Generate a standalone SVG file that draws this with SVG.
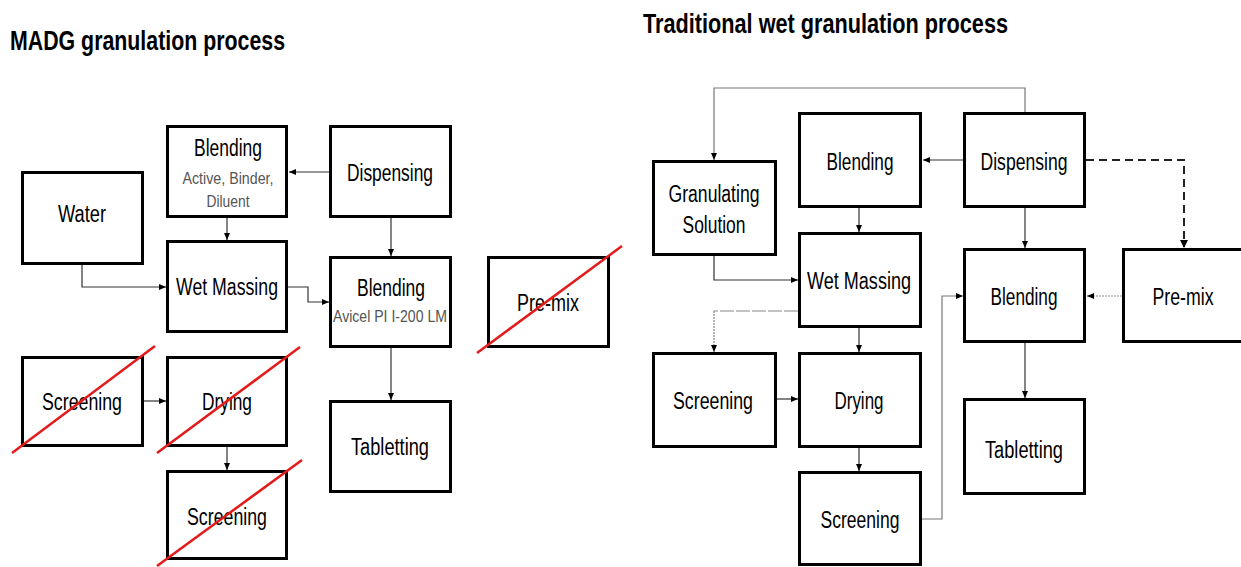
<svg xmlns="http://www.w3.org/2000/svg" width="1241" height="567" viewBox="0 0 1241 567">
<style>
.box{fill:#fff;stroke:#000;stroke-width:3}
.t{font-family:"Liberation Sans",Arial,sans-serif;font-size:23px;fill:#000;text-anchor:middle}
.s{font-family:"Liberation Sans",Arial,sans-serif;font-size:17px;fill:#555;text-anchor:middle}
.title{font-family:"Liberation Sans",Arial,sans-serif;font-size:28px;font-weight:bold;fill:#000}
.c{fill:none;stroke:#333;stroke-width:1.2}
.g{fill:none;stroke:#777;stroke-width:1.2}
.dash{fill:none;stroke:#222;stroke-width:2;stroke-dasharray:8,5}
.dot{fill:none;stroke:#888;stroke-width:1.2;stroke-dasharray:2,1}
.ld{fill:none;stroke:#888;stroke-width:1.2;stroke-dasharray:14,2}
.x{stroke:#e31b1b;stroke-width:2.5;fill:none}
</style>
<defs>
<marker id="ah" markerUnits="userSpaceOnUse" markerWidth="8" markerHeight="8" refX="7" refY="4" orient="auto">
<path d="M0,1 L7,4 L0,7 Z" fill="#000"/>
</marker>
</defs>
<rect width="1241" height="567" fill="#fff"/>
<text class="title" x="10" y="50" textLength="275" lengthAdjust="spacingAndGlyphs">MADG granulation process</text>
<text class="title" x="643" y="33" textLength="365" lengthAdjust="spacingAndGlyphs">Traditional wet granulation process</text>

<g id="connectors">
<path class="c" d="M329,172 H289" marker-end="url(#ah)"/>
<path class="c" d="M227,218 V240" marker-end="url(#ah)"/>
<path class="c" d="M82,265 V287 H166" marker-end="url(#ah)"/>
<path class="c" d="M288,287 H308 V302 H329" marker-end="url(#ah)"/>
<path class="c" d="M391,218 V256" marker-end="url(#ah)"/>
<path class="c" d="M144,401 H166" marker-end="url(#ah)"/>
<path class="c" d="M227,447 V470" marker-end="url(#ah)"/>
<path class="c" d="M391,348 V400" marker-end="url(#ah)"/>

<path class="g" d="M1025,112 V88 H714 V160" marker-end="url(#ah)"/>
<path class="c" d="M963,160 H923" marker-end="url(#ah)"/>
<path class="c" d="M859,208 V232" marker-end="url(#ah)"/>
<path class="c" d="M714,256 V280 H798" marker-end="url(#ah)"/>
<path class="ld" d="M798,311 H714"/>
<path class="dot" d="M714,311 V352" marker-end="url(#ah)"/>
<path class="c" d="M859,328 V352" marker-end="url(#ah)"/>
<path class="c" d="M777,399 H798" marker-end="url(#ah)"/>
<path class="c" d="M859,448 V471" marker-end="url(#ah)"/>
<path class="g" d="M922,519 H942 V296 H963" marker-end="url(#ah)"/>
<path class="c" d="M1025,208 V248" marker-end="url(#ah)"/>
<path class="c" d="M1025,343 V398" marker-end="url(#ah)"/>
<path class="dash" d="M1086,160 H1184 V247"/>
<path d="M1180,240 L1184,248 L1188,240 Z" fill="#000"/>
<path class="dot" d="M1122,296 H1087" marker-end="url(#ah)"/>
</g>

<g id="madg-blending1"><rect class="box" x="167.5" y="126.5" width="119" height="90"/>
<text class="t" x="228" y="156" textLength="68" lengthAdjust="spacingAndGlyphs">Blending</text>
<text class="s" x="228" y="184" textLength="91" lengthAdjust="spacingAndGlyphs">Active, Binder,</text>
<text class="s" x="228" y="207" textLength="43" lengthAdjust="spacingAndGlyphs">Diluent</text></g>
<g id="madg-water"><rect class="box" x="22.5" y="172.5" width="120" height="91"/>
<text class="t" x="82" y="222" textLength="48" lengthAdjust="spacingAndGlyphs">Water</text></g>
<g id="madg-wetmassing"><rect class="box" x="167.5" y="241.5" width="119" height="90"/>
<text class="t" x="227" y="295" textLength="102" lengthAdjust="spacingAndGlyphs">Wet Massing</text></g>
<g id="madg-dispensing"><rect class="box" x="330.5" y="126.5" width="120" height="90"/>
<text class="t" x="390" y="181" textLength="86" lengthAdjust="spacingAndGlyphs">Dispensing</text></g>
<g id="madg-blending2"><rect class="box" x="330.5" y="257.5" width="120" height="89"/>
<text class="t" x="391" y="296" textLength="68" lengthAdjust="spacingAndGlyphs">Blending</text>
<text class="s" x="390" y="322" textLength="114" lengthAdjust="spacingAndGlyphs">Avicel PI I-200 LM</text></g>
<g id="madg-premix"><rect class="box" x="488.5" y="257.5" width="120" height="89"/>
<text class="t" x="548" y="311" textLength="62" lengthAdjust="spacingAndGlyphs">Pre-mix</text>
<line class="x" x1="477" y1="353" x2="622" y2="246"/></g>
<g id="madg-screening1"><rect class="box" x="22.5" y="357.5" width="120" height="88"/>
<text class="t" x="82" y="410" textLength="80" lengthAdjust="spacingAndGlyphs">Screening</text>
<line class="x" x1="12" y1="453" x2="155" y2="346"/></g>
<g id="madg-drying"><rect class="box" x="167.5" y="357.5" width="119" height="88"/>
<text class="t" x="227" y="410" textLength="50" lengthAdjust="spacingAndGlyphs">Drying</text>
<line class="x" x1="157" y1="453" x2="300" y2="347"/></g>
<g id="madg-screening2"><rect class="box" x="167.5" y="471.5" width="119" height="87"/>
<text class="t" x="227" y="525" textLength="80" lengthAdjust="spacingAndGlyphs">Screening</text>
<line class="x" x1="157" y1="566" x2="302" y2="460"/></g>
<g id="madg-tabletting"><rect class="box" x="330.5" y="401.5" width="120" height="90"/>
<text class="t" x="390" y="455" textLength="78" lengthAdjust="spacingAndGlyphs">Tabletting</text></g>

<g id="wet-gransol"><rect class="box" x="653.5" y="161.5" width="122" height="93"/>
<text class="t" x="714" y="202" textLength="91" lengthAdjust="spacingAndGlyphs">Granulating</text>
<text class="t" x="714" y="233" textLength="63" lengthAdjust="spacingAndGlyphs">Solution</text></g>
<g id="wet-blending1"><rect class="box" x="799.5" y="113.5" width="121" height="93"/>
<text class="t" x="860" y="170" textLength="67" lengthAdjust="spacingAndGlyphs">Blending</text></g>
<g id="wet-wetmassing"><rect class="box" x="799.5" y="233.5" width="121" height="93"/>
<text class="t" x="859" y="289" textLength="104" lengthAdjust="spacingAndGlyphs">Wet Massing</text></g>
<g id="wet-dispensing"><rect class="box" x="964.5" y="113.5" width="120" height="93"/>
<text class="t" x="1024" y="170" textLength="87" lengthAdjust="spacingAndGlyphs">Dispensing</text></g>
<g id="wet-blending2"><rect class="box" x="964.5" y="249.5" width="120" height="92"/>
<text class="t" x="1024" y="305" textLength="67" lengthAdjust="spacingAndGlyphs">Blending</text></g>
<g id="wet-premix"><rect class="box" x="1123.5" y="249.5" width="125" height="92"/>
<text class="t" x="1183" y="305" textLength="61" lengthAdjust="spacingAndGlyphs">Pre-mix</text></g>
<g id="wet-screening1"><rect class="box" x="653.5" y="353.5" width="122" height="93"/>
<text class="t" x="713" y="409" textLength="80" lengthAdjust="spacingAndGlyphs">Screening</text></g>
<g id="wet-drying"><rect class="box" x="799.5" y="353.5" width="121" height="93"/>
<text class="t" x="859" y="409" textLength="49" lengthAdjust="spacingAndGlyphs">Drying</text></g>
<g id="wet-screening2"><rect class="box" x="799.5" y="472.5" width="121" height="92"/>
<text class="t" x="860" y="528" textLength="79" lengthAdjust="spacingAndGlyphs">Screening</text></g>
<g id="wet-tabletting"><rect class="box" x="964.5" y="399.5" width="120" height="94"/>
<text class="t" x="1024" y="458" textLength="78" lengthAdjust="spacingAndGlyphs">Tabletting</text></g>
</svg>
